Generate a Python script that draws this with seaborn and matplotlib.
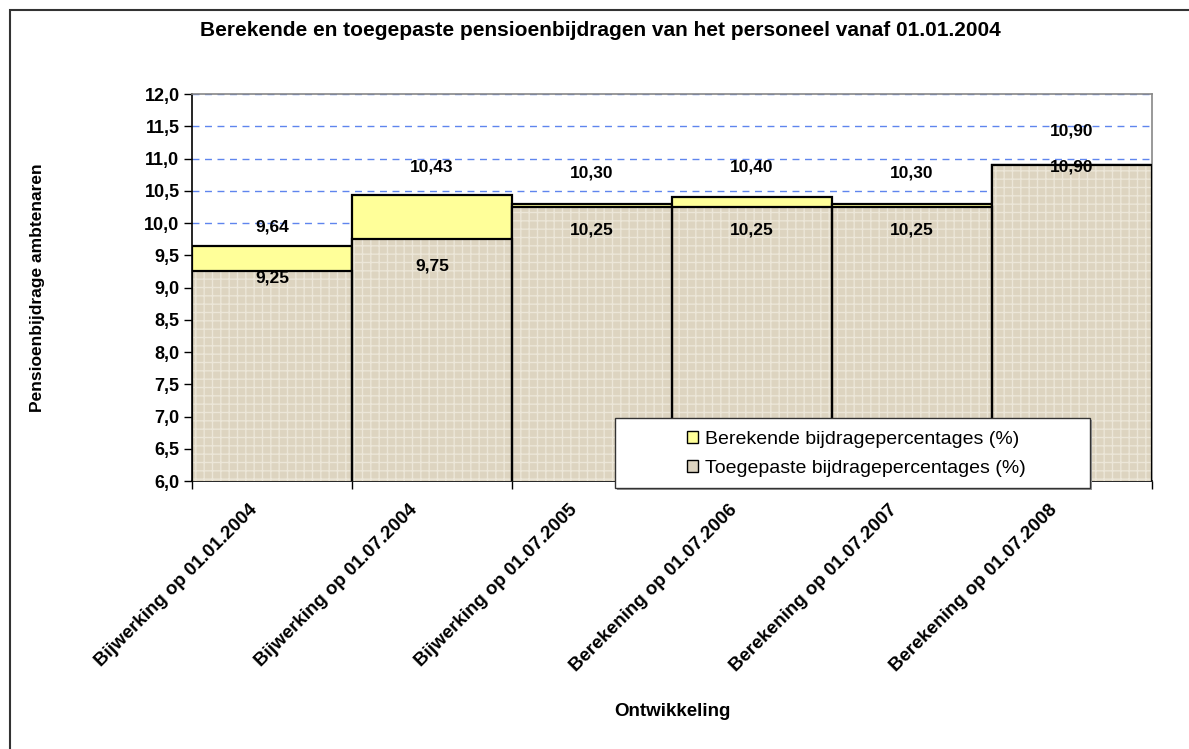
import matplotlib
matplotlib.use("Agg")
import matplotlib.pyplot as plt
import matplotlib.transforms as mtransforms
import seaborn as sns
import pandas as pd
from matplotlib.patches import Patch, Rectangle

categories = ["Bijwerking op 01.01.2004", "Bijwerking op 01.07.2004", "Bijwerking op 01.07.2005",
              "Berekening op 01.07.2006", "Berekening op 01.07.2007", "Berekening op 01.07.2008"]
berekende = [9.64, 10.43, 10.30, 10.40, 10.30, 10.90]
toegepaste = [9.25, 9.75, 10.25, 10.25, 10.25, 10.90]
yticks = [6.0, 6.5, 7.0, 7.5, 8.0, 8.5, 9.0, 9.5, 10.0, 10.5, 11.0, 11.5, 12.0]

# label offsets (style)
off_up = [0.30, 0.44, 0.48, 0.47, 0.48, 0.53]
off_dn = [-0.10, -0.42, -0.36, -0.36, -0.36, -0.03]

sns.set_theme(style="white")
plt.rcParams['font.family'] = ['Liberation Sans', 'DejaVu Sans']
for k in ["text.color", "axes.labelcolor", "xtick.color", "ytick.color"]:
    plt.rcParams[k] = "black"

W, H = 1189, 749
fig = plt.figure(figsize=(W / 100, H / 100), dpi=100)
ax = fig.add_axes([192 / W, 1 - 481 / H, (1152 - 192) / W, (481 - 94) / H])

df = pd.DataFrame({"cat": categories, "ber": berekende, "toe": toegepaste})

YEL = "#FFFF99"
TAN = "#DDD4C0"

sns.barplot(data=df, x="cat", y="ber", color=YEL, width=1.0, saturation=1,
            edgecolor="black", linewidth=1.6, ax=ax, zorder=2)
n_before = len(ax.patches)
sns.barplot(data=df, x="cat", y="toe", color=TAN, width=1.0, saturation=1,
            edgecolor="#EEE9DE", linewidth=0, ax=ax, zorder=3)
plt.rcParams['hatch.linewidth'] = 0.9
for p in ax.patches[n_before:]:
    p.set_hatch("++")
    p.set_edgecolor("#ECE6D8")
    p.set_linewidth(0)
sns.barplot(data=df, x="cat", y="toe", fill=False, width=1.0,
            edgecolor="black", linewidth=1.6, ax=ax, zorder=4)

ax.set_ylim(6.0, 12.0)
ax.set_xlim(-0.5, len(categories) - 0.5)
ax.set_yticks(yticks)
ax.set_yticklabels([f"{v:.1f}".replace(".", ",") for v in yticks], fontsize=13, fontweight="bold")
ax.yaxis.grid(True, linestyle=(0, (5, 4)), color="#5F85EE", linewidth=1.0)
ax.set_axisbelow(True)
ax.tick_params(axis="y", which="major", direction="out", length=6, width=1, color="black", left=True, pad=3)

# x ticks: boundaries major, labels at centers minor
ax.set_xticks([i - 0.5 for i in range(len(categories) + 1)])
ax.set_xticklabels([])
ax.set_xticks(range(len(categories)), minor=True)
ax.set_xticklabels(categories, minor=True, rotation=45, ha="right", va="center",
                   rotation_mode="anchor", fontsize=13.5, fontweight="bold")
ax.tick_params(axis="x", which="major", direction="out", length=6, width=1, color="black", bottom=True)
ax.tick_params(axis="x", which="minor", length=0, pad=19)

for s in ["left", "bottom"]:
    ax.spines[s].set_color("black")
    ax.spines[s].set_linewidth(1.2)
for s in ["top", "right"]:
    ax.spines[s].set_color("#888888")
    ax.spines[s].set_linewidth(1.2)

for i in range(len(categories)):
    ax.text(i, berekende[i] + off_up[i], f"{berekende[i]:.2f}".replace(".", ","),
            ha="center", va="center", fontsize=12.5, fontweight="bold", color="black", zorder=6)
    ax.text(i, toegepaste[i] + off_dn[i], f"{toegepaste[i]:.2f}".replace(".", ","),
            ha="center", va="center", fontsize=12.5, fontweight="bold", color="black", zorder=6)

ax.set_xlabel("Ontwikkeling", fontsize=13.5, fontweight="bold", labelpad=0)
ax.xaxis.set_label_coords(0.5, (481 - 711) / 387)
ax.xaxis.label.set_va("center")
ax.set_ylabel("Pensioenbijdrage ambtenaren", fontsize=12.5, fontweight="bold")
ax.yaxis.set_label_coords((38 - 192) / 960, 0.5)
ax.yaxis.label.set_va("center")

# legend box
lx0, ly0, lx1, ly1 = 615, 418, 1090, 488
ax_w, ax_h = 960, 387
shadow = Rectangle(((lx0 + 2 - 192) / ax_w, (481 - ly1 - 2) / ax_h), (lx1 - lx0) / ax_w, (ly1 - ly0) / ax_h,
                   transform=ax.transAxes, facecolor="#999999", edgecolor="none", clip_on=False, zorder=7)
box = Rectangle(((lx0 - 192) / ax_w, (481 - ly1) / ax_h), (lx1 - lx0) / ax_w, (ly1 - ly0) / ax_h,
                transform=ax.transAxes, facecolor="white", edgecolor="#333333", linewidth=1.0,
                clip_on=False, zorder=8)
ax.add_patch(shadow)
ax.add_patch(box)
handles = [Patch(facecolor=YEL, edgecolor="black", linewidth=1.0, label="Berekende bijdragepercentages (%)"),
           Patch(facecolor=TAN, edgecolor="black", linewidth=1.0, label="Toegepaste bijdragepercentages (%)")]
leg = ax.legend(handles=handles, loc="center",
                bbox_to_anchor=(((lx0 + lx1) / 2 + 4 - 192) / ax_w, (481 - (ly0 + ly1) / 2 - 1) / ax_h),
                frameon=False, fontsize=14, handlelength=0.55, handleheight=0.55, handletextpad=0.35,
                labelspacing=0.62)
leg.set_zorder(9)

fig.text(0.505, 1 - 30 / H, "Berekende en toegepaste pensioenbijdragen van het personeel vanaf 01.01.2004",
         ha="center", va="center", fontsize=15, fontweight="bold")

frame = Rectangle((10 / W, -0.05), 1.1, 1 - 10 / H + 0.05, transform=fig.transFigure,
                  facecolor="none", edgecolor="#333333", linewidth=1.5, clip_on=False)
fig.patches.append(frame)

# shift category labels slightly left (as in the original layout)
shift = mtransforms.ScaledTranslation(-17 / 100, 0, fig.dpi_scale_trans)
for t in ax.xaxis.get_minor_ticks():
    t.label1.set_transform(t.label1.get_transform() + shift)

fig.savefig("out.png", dpi=100)
